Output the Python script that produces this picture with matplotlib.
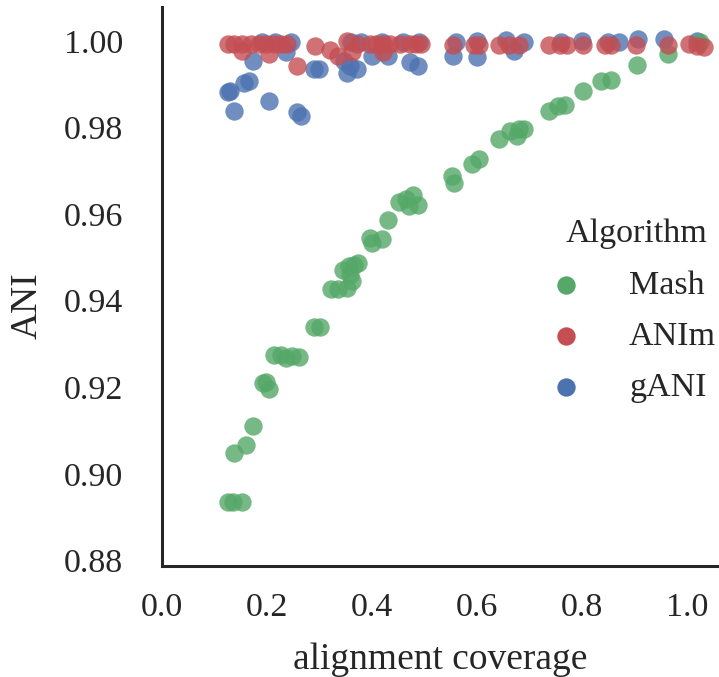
import matplotlib
matplotlib.use("Agg")
import matplotlib.pyplot as plt

plt.rcParams['font.family'] = ['Liberation Serif', 'DejaVu Serif']
plt.rcParams['text.color'] = '.15'
plt.rcParams['axes.labelcolor'] = '.15'
plt.rcParams['xtick.color'] = '.15'
plt.rcParams['ytick.color'] = '.15'

# Mash
mash_x = [0.125, 0.135, 0.152, 0.138, 0.160, 0.173, 0.192, 0.204, 0.198,
          0.214, 0.226, 0.236, 0.247, 0.261, 0.289, 0.302,
          0.322, 0.335, 0.352, 0.362, 0.345, 0.356, 0.365, 0.374, 0.358,
          0.396, 0.400, 0.420, 0.431,
          0.451, 0.465, 0.471, 0.478, 0.488,
          0.553, 0.556, 0.590, 0.604,
          0.642, 0.664, 0.677, 0.680, 0.689,
          0.737, 0.755, 0.768, 0.803, 0.837, 0.856,
          0.905, 0.965, 1.025]
mash_y = [0.8935, 0.8935, 0.8935, 0.9049, 0.9066, 0.9110, 0.9209, 0.9197, 0.9212,
          0.9275, 0.9275, 0.9268, 0.9272, 0.9270, 0.9340, 0.9340,
          0.9427, 0.9427, 0.9429, 0.9445, 0.9472, 0.9479, 0.9483, 0.9487, 0.9460,
          0.9545, 0.9533, 0.9543, 0.9586,
          0.9627, 0.9634, 0.9618, 0.9645, 0.9622,
          0.9688, 0.9673, 0.9715, 0.9727,
          0.9773, 0.9792, 0.9781, 0.9796, 0.9796,
          0.9838, 0.9850, 0.9852, 0.9885, 0.9908, 0.9910,
          0.9945, 0.9971, 0.9998]

# ANIm
anim_x = [0.125, 0.138, 0.153, 0.170, 0.185, 0.198, 0.214, 0.227, 0.238,
          0.153, 0.204, 0.257, 0.292, 0.321, 0.336, 0.352, 0.362, 0.371,
          0.396, 0.408, 0.422, 0.434, 0.453, 0.472, 0.484, 0.494, 0.422,
          0.554, 0.595, 0.604, 0.642, 0.661, 0.680, 0.737, 0.759, 0.772,
          0.803, 0.844, 0.856, 0.904, 0.964, 1.005, 1.020, 1.032]
anim_y = [0.9993, 0.9993, 0.9993, 0.9993, 0.9993, 0.9993, 0.9993, 0.9993, 0.9993,
          0.9977, 0.9970, 0.9943, 0.9989, 0.9978, 0.9966, 1.0000, 0.9975, 0.9993,
          0.9993, 0.9993, 0.9993, 0.9993, 0.9993, 0.9993, 0.9993, 0.9993, 0.9974,
          0.9991, 0.9991, 0.9991, 0.9991, 0.9991, 0.9991, 0.9991, 0.9991, 0.9991,
          0.9991, 0.9991, 0.9991, 0.9991, 0.9991, 0.9993, 0.9988, 0.9985]

# gANI
gani_x = [0.125, 0.129, 0.138, 0.157, 0.166, 0.173, 0.204, 0.236, 0.258, 0.264,
          0.290, 0.300, 0.346, 0.352, 0.359, 0.371, 0.400, 0.431, 0.472, 0.488,
          0.554, 0.601, 0.670,
          0.190, 0.215, 0.245, 0.360, 0.380, 0.420, 0.460, 0.490,
          0.560, 0.600, 0.655, 0.690, 0.760, 0.800, 0.850, 0.870, 0.907, 0.957, 1.020]
gani_y = [0.9882, 0.9885, 0.9838, 0.9904, 0.9908, 0.9954, 0.9862, 0.9974, 0.9835, 0.9827,
          0.9935, 0.9935, 0.9954, 0.9927, 0.9943, 0.9935, 0.9966, 0.9966, 0.9951, 0.9943,
          0.9966, 0.9962, 0.9977,
          0.9997, 0.9997, 0.9997, 0.9998, 0.9998, 0.9997, 0.9997, 0.9997,
          0.9997, 0.9999, 1.0003, 0.9998, 0.9997, 0.9999, 0.9997, 0.9997, 1.0004, 1.0004, 1.0000]

green = '#55A868'
red = '#C44E52'
blue = '#4C72B0'

fig = plt.figure(figsize=(7.19, 6.77), dpi=100)
ax = fig.add_axes([162 / 719, 111 / 677, 557 / 719, 559 / 677])

ms = 175
h_gani = ax.scatter(gani_x, gani_y, s=ms, color=blue, alpha=0.8, linewidths=0, label='gANI')
h_mash = ax.scatter(mash_x, mash_y, s=ms, color=green, alpha=0.8, linewidths=0, label='Mash')
h_anim = ax.scatter(anim_x, anim_y, s=ms, color=red, alpha=0.8, linewidths=0, label='ANIm')

ax.set_xlim(0.008, 1.0615)
ax.set_ylim(0.8787, 1.00785)
ax.set_xticks([0.0, 0.2, 0.4, 0.6, 0.8, 1.0])
ax.set_yticks([0.88, 0.90, 0.92, 0.94, 0.96, 0.98, 1.00])
ax.set_yticklabels(['0.88', '0.90', '0.92', '0.94', '0.96', '0.98', '1.00'])
ax.tick_params(axis='both', length=0, labelsize=24.5)
ax.tick_params(axis='x', pad=19)
ax.tick_params(axis='y', pad=28)

for s in ['top', 'right']:
    ax.spines[s].set_visible(False)
for s in ['left', 'bottom']:
    ax.spines[s].set_linewidth(2.2)
    ax.spines[s].set_color('.15')

ax.set_xlabel('alignment coverage', fontsize=27, labelpad=14)
ax.set_ylabel('ANI', fontsize=27)
ax.yaxis.set_label_coords(-0.21, 0.465)

leg = fig.legend([h_mash, h_anim, h_gani], ['Mash', 'ANIm', 'gANI'],
                 title='Algorithm', frameon=False, fontsize=24.5, title_fontsize=24.5,
                 labelspacing=0.6, handlelength=0.6, handletextpad=1.55,
                 loc='center', bbox_to_anchor=(636 / 719, 1 - 311 / 677))
for lh in leg.legend_handles:
    lh.set_alpha(1)
    lh.set_sizes([ms])

fig.savefig('out.png', dpi=100)
